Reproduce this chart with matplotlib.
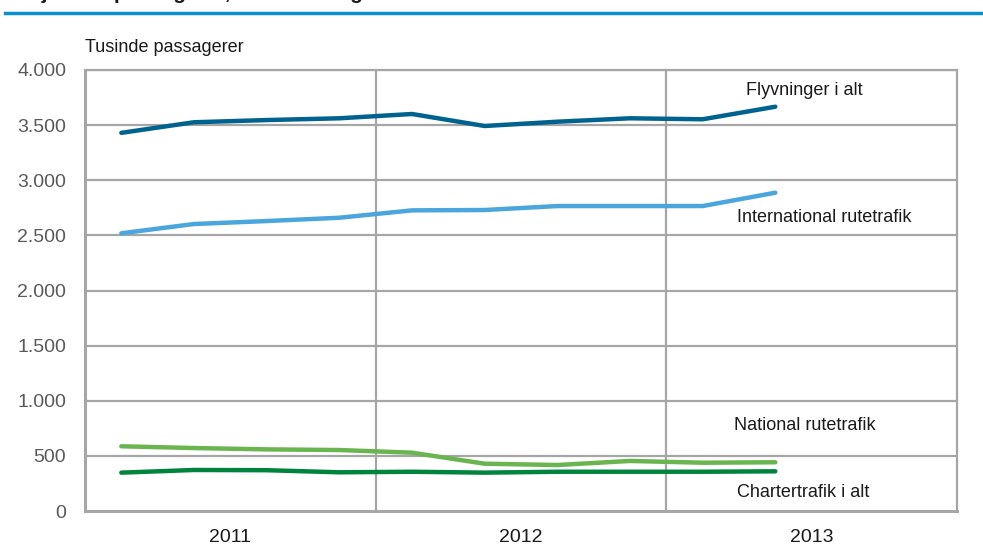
from matplotlib import pyplot as plt
from matplotlib.lines import Line2D
import numpy as np

plt.rcParams['font.family'] = ['Liberation Sans Narrow', 'Liberation Sans', 'DejaVu Sans']

# quarterly values, 1. kvt. 2011 - 2. kvt. 2013 (thousand passengers)
years = ['2011', '2012', '2013']
quarters_per_year = 4
flyvninger = [3430, 3526, 3546, 3562, 3601, 3492, 3531, 3562, 3553, 3667]
international = [2519, 2603, 2630, 2660, 2727, 2730, 2766, 2766, 2766, 2887]
national = [587, 571, 559, 553, 529, 429, 417, 454, 438, 442]
charter = [348, 372, 370, 351, 356, 348, 356, 356, 356, 360]
y_ticks = [0, 500, 1000, 1500, 2000, 2500, 3000, 3500, 4000]
y_tick_labels = ['0', '500', '1.000', '1.500', '2.000', '2.500', '3.000', '3.500', '4.000']

series = [
    ('Flyvninger i alt', flyvninger, '#00638f', (9.9, 3810)),
    ('International rutetrafik', international, '#4ba6dd', (10.18, 2658)),
    ('National rutetrafik', national, '#6ab550', (9.9, 780)),
    ('Chartertrafik i alt', charter, '#00843d', (9.88, 172)),
]

grid_col = '#a6a6a6'
txt_col = '#1a1a1a'
tick_col = '#595959'

fig = plt.figure(figsize=(9.83, 5.5), dpi=100)
ax = fig.add_axes([85 / 983, 39 / 550, 872 / 983, 441 / 550])

n_slots = len(years) * quarters_per_year
ax.set_xlim(0, n_slots)
ax.set_ylim(0, 4000)

for y in y_ticks[1:]:
    ax.axhline(y, color=grid_col, lw=1.6, zorder=1)
for k in range(1, len(years)):
    ax.axvline(k * quarters_per_year, color=grid_col, lw=1.6, zorder=1)

for name, vals, col, (lx, ly) in series:
    x = np.arange(len(vals)) + 0.5
    ax.plot(x, vals, color=col, lw=3.2, solid_capstyle='round', solid_joinstyle='round', zorder=3)
    ax.text(lx, ly, name, ha='center', va='center', fontsize=13, color=txt_col)

for s in ax.spines.values():
    s.set_color(grid_col)
    s.set_linewidth(1.6)
ax.spines['left'].set_linewidth(2.2)
ax.spines['bottom'].set_linewidth(2.2)

ax.set_yticks(y_ticks)
ax.set_yticklabels(y_tick_labels, fontsize=14, color=tick_col)
ax.set_xticks([(k + 0.5) * quarters_per_year for k in range(len(years))])
ax.set_xticklabels(years, fontsize=14, color=txt_col)
ax.tick_params(axis='y', length=0, pad=13.5)
ax.tick_params(axis='x', length=0, pad=13)

fig.text(85 / 983, 1 - 47 / 550, 'Tusinde passagerer', ha='left', va='center', fontsize=13, color=txt_col)

# title sits above the crop, only its descenders show
fig.text(15 / 983, 1 + 1 / 550, 'Rejsende passagerer, sæsonkorrigeret', ha='left', va='baseline',
         fontsize=15, fontweight='bold', color=txt_col)
fig.add_artist(Line2D([5 / 983, 1], [1 - 13 / 550, 1 - 13 / 550], color='#0a8fd0', lw=2.5))

plt.savefig('out.png', dpi=100)
